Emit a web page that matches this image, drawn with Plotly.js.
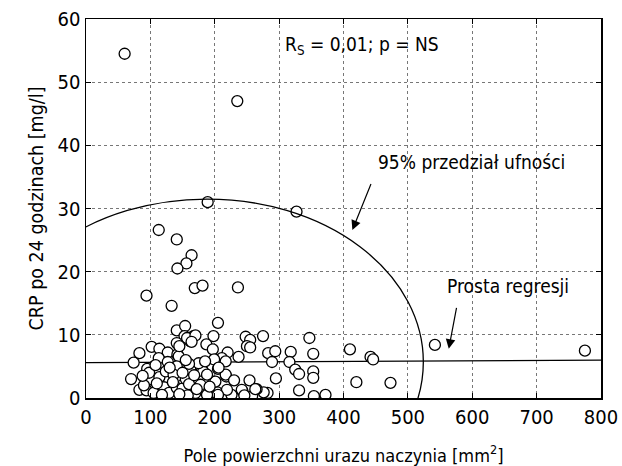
<!DOCTYPE html>
<html>
<head>
<meta charset="utf-8">
<script src="https://cdn.plot.ly/plotly-3.0.1.min.js"></script>
<style>html,body{margin:0;padding:0;background:#fff;}#chart{width:622px;height:466px;}</style>
</head>
<body>
<div id="chart"></div>
<script>
// Pole powierzchni urazu naczynia [mm2]
const areaX = [
  60, 235, 189, 327, 113, 141, 164, 156, 142, 169, 181, 236, 94, 133,
  141, 154, 167, 153, 141, 162, 198, 187, 197, 205, 248, 255, 250, 255, 275, 347, 410, 442, 446, 542, 775, 473, 420,
  283, 294, 318, 353, 289, 316, 325, 331, 353, 353, 295, 331, 354, 372, 282, 276,
  102, 114, 83, 127, 113, 127, 74, 95, 70, 100, 114, 83, 94, 121, 129, 105, 140, 141, 124, 142, 144, 141, 136, 110, 90, 118, 135, 98, 108, 130, 88,
  157, 170, 164, 145, 162, 180, 205, 218, 198, 178, 150, 189, 204, 226, 243, 254, 265, 258, 170, 220, 237, 211, 217, 199, 217, 206, 201, 182, 188, 263, 219, 205, 188, 242, 155, 160, 168, 175, 150, 158, 145, 192, 230, 246, 172, 185, 160, 155
];
// CRP po 24 godzinach [mg/l]
const crpY = [
  54.5, 47, 31, 29.5, 26.6, 25.1, 22.6, 21.3, 20.5, 17.4, 17.8, 17.5, 16.2, 14.6,
  10.7, 11.4, 9.8, 9.8, 8.7, 9.0, 9.8, 8.5, 7.7, 11.9, 9.7, 9.2, 8.2, 8.0, 9.8, 9.5, 7.7, 6.5, 6.1, 8.4, 7.5, 2.4, 2.5,
  7.1, 7.4, 7.3, 7.0, 5.7, 5.7, 4.5, 3.8, 4.2, 3.2, 3.1, 1.2, 0.3, 0.5, 0.8, 0.9,
  8.1, 7.8, 7.1, 7.2, 6.3, 5.7, 5.6, 4.6, 3.0, 3.0, 3.3, 1.3, 1.2, 1.7, 0.8, 0.8, 3.4, 1.6, 4.2, 6.9, 6.6, 5.0, 3.7, 2.3, 2.0, 0.5, 2.5, 4.0, 5.2, 4.8, 3.5,
  9.5, 9.9, 8.9, 8.2, 4.6, 4.5, 4.6, 3.4, 2.6, 2.1, 1.5, 0.5, 0.9, 0.5, 1.1, 2.8, 1.4, 0.3, 0.8, 7.2, 6.5, 6.3, 5.8, 6.1, 3.7, 4.8, 2.6, 4.2, 3.7, 1.4, 1.3, 0.5, 0.5, 1.3, 3.0, 2.2, 3.6, 5.5, 4.0, 0.4, 0.6, 1.8, 2.8, 0.4, 1.4, 5.8, 5.4, 6.0
];
// Regression line end points
const regX = [0, 800];
const regY = [5.6, 6.0];
// 95% confidence ellipse: centre and semi-axes
const ellCenter = [188, 5.7];
const ellSemi = [336, 25.8];
// Axis ticks
const xTicks = [0, 100, 200, 300, 400, 500, 600, 700, 800];
const yTicks = [0, 10, 20, 30, 40, 50, 60];

const FONT = "'Liberation Sans Narrow', 'DejaVu Sans Condensed', 'Arial Narrow', 'Roboto', sans-serif";

const traces = [
  {
    x: regX, y: regY, type: 'scatter', mode: 'lines',
    line: {color: '#000', width: 1.3}, hoverinfo: 'skip', showlegend: false
  },
  {
    x: areaX, y: crpY, type: 'scatter', mode: 'markers',
    marker: {symbol: 'circle', size: 11, color: '#fff', line: {color: '#000', width: 1.3}},
    showlegend: false
  }
];

const layout = {
  width: 622, height: 466,
  margin: {l: 86, r: 21, t: 19, b: 68},
  paper_bgcolor: '#fff', plot_bgcolor: '#fff',
  font: {family: FONT, size: 20, color: '#000'},
  showlegend: false,
  xaxis: {
    range: [0, 800], tickvals: xTicks, ticktext: xTicks.map(String),
    showline: true, linecolor: '#000', linewidth: 1.5, mirror: 'ticks',
    ticks: 'inside', ticklen: 5, tickcolor: '#000',
    showgrid: true, gridcolor: '#777', griddash: 'dot', gridwidth: 1,
    zeroline: false,
    tickfont: {family: FONT, size: 20},
    title: {text: 'Pole powierzchni urazu naczynia [mm<sup>2</sup>]', font: {family: FONT, size: 18}, standoff: 22}
  },
  yaxis: {
    range: [0, 60], tickvals: yTicks, ticktext: yTicks.map(String),
    showline: true, linecolor: '#000', linewidth: 1.5, mirror: 'ticks',
    ticks: 'inside', ticklen: 5, tickcolor: '#000',
    showgrid: true, gridcolor: '#777', griddash: 'dot', gridwidth: 1,
    zeroline: false,
    tickfont: {family: FONT, size: 20},
    title: {text: 'CRP po 24 godzinach [mg/l]', font: {family: FONT, size: 19.5}, standoff: 9}
  },
  shapes: [
    {
      type: 'circle', xref: 'x', yref: 'y', layer: 'above',
      x0: ellCenter[0] - ellSemi[0], x1: ellCenter[0] + ellSemi[0],
      y0: ellCenter[1] - ellSemi[1], y1: ellCenter[1] + ellSemi[1],
      line: {color: '#000', width: 1.3}
    }
  ],
  annotations: [
    {x: 306, y: 55.8, xref: 'x', yref: 'y', xanchor: 'left', yanchor: 'middle', showarrow: false,
     text: 'R<sub>S</sub> = 0,01; p = NS', font: {family: FONT, size: 19}},
    {x: 450, y: 37.3, xref: 'x', yref: 'y', xanchor: 'left', yanchor: 'middle', showarrow: false,
     text: '95% przedział ufności', font: {family: FONT, size: 19}},
    {x: 413.8, y: 26.6, ax: 443.6, ay: 34.1, xref: 'x', yref: 'y', axref: 'x', ayref: 'y',
     text: '', showarrow: true, arrowhead: 2, arrowsize: 1.6, arrowwidth: 1.2, arrowcolor: '#000'},
    {x: 557, y: 17.8, xref: 'x', yref: 'y', xanchor: 'left', yanchor: 'middle', showarrow: false,
     text: 'Prosta regresji', font: {family: FONT, size: 19}},
    {x: 563.5, y: 7.8, ax: 576, ay: 14.5, xref: 'x', yref: 'y', axref: 'x', ayref: 'y',
     text: '', showarrow: true, arrowhead: 2, arrowsize: 1.6, arrowwidth: 1.2, arrowcolor: '#000'}
  ]
};

Plotly.newPlot('chart', traces, layout, {displayModeBar: false, staticPlot: true});
</script>
</body>
</html>
